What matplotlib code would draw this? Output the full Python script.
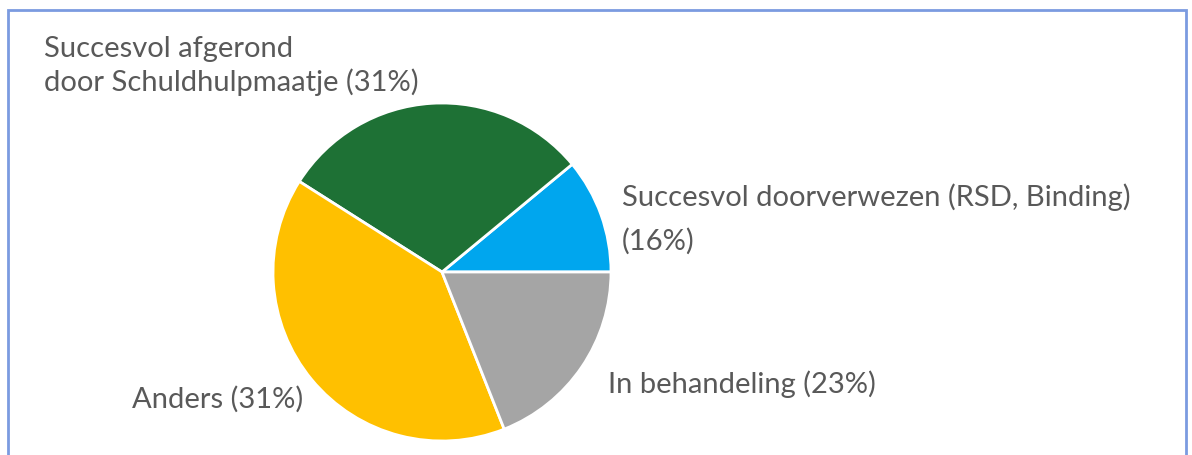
import matplotlib.pyplot as plt
from matplotlib.patches import Rectangle

# slice sizes as drawn (counterclockwise from 3 o'clock)
categories = ["Succesvol doorverwezen", "Succesvol afgerond", "Anders", "In behandeling"]
values = [11, 30, 40, 19]
colors = ["#00A6EE", "#1E7135", "#FFC000", "#A5A5A5"]

# label texts as printed on the chart
labels = [
    "Succesvol doorverwezen (RSD, Binding)\n(16%)",
    "Succesvol afgerond\ndoor Schuldhulpmaatje (31%)",
    "Anders (31%)",
    "In behandeling (23%)",
]

W, H = 1192, 456
fig = plt.figure(figsize=(W / 100, H / 100), dpi=100)
fig.patch.set_facecolor("white")

# pie axes placed in pixel coordinates
cx, cy, r = 442, 273, 169
ax = fig.add_axes([(cx - r) / W, (H - cy - r) / H, 2 * r / W, 2 * r / H])
ax.pie(values, colors=colors, startangle=0, counterclock=True, radius=1,
       wedgeprops=dict(edgecolor="white", linewidth=2))
ax.set_xlim(-1, 1)
ax.set_ylim(-1, 1)
ax.axis("off")

# chart border (bottom edge cut off)
fig.patches.append(Rectangle((8 / W, -0.1), (1186 - 8) / W, (H - 11) / H + 0.1,
                             transform=fig.transFigure, fill=False,
                             edgecolor="#7B9BE0", linewidth=2))


def put_label(text, x, y, gap):
    # one fig.text per line, y = baseline of first line in pixels from top
    for i, line in enumerate(text.split("\n")):
        fig.text(x / W, 1 - (y + i * gap) / H, line, ha="left", va="baseline",
                 color="#595959", fontsize=21, family="Lato")


put_label(labels[0], 622, 206, 44)
put_label(labels[1], 44, 57, 34)
put_label(labels[2], 132, 408, 0)
put_label(labels[3], 608, 393, 0)

fig.savefig("out.png", dpi=100)
